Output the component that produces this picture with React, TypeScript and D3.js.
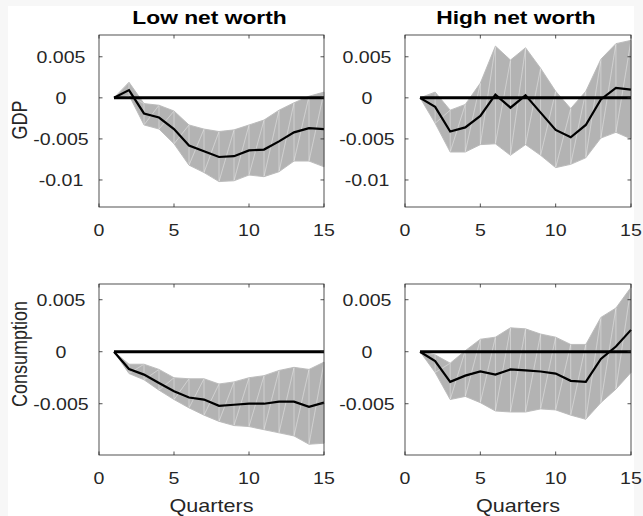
import React from "react";
import * as d3 from "d3";

// Horizon (quarters) shared by every panel
const quarters = [1, 2, 3, 4, 5, 6, 7, 8, 9, 10, 11, 12, 13, 14, 15];

const colTitles = ["Low net worth", "High net worth"];
const rowLabels = ["GDP", "Consumption"];

const xTicks = [0, 5, 10, 15];
const gdpTicks = [0.005, 0, -0.005, -0.01];
const consTicks = [0.005, 0, -0.005];
const gdpTickLabels = ["0.005", "0", "-0.005", "-0.01"];
const consTickLabels = ["0.005", "0", "-0.005"];

// GDP, low net worth
const gdpLowIrf = [0, 0.00094, -0.0019, -0.0024, -0.0038, -0.0058, -0.0065, -0.0072, -0.0071, -0.0064, -0.0063, -0.0053, -0.0042, -0.0037, -0.0038];
const gdpLowUpper = [0, 0.0019, -0.0007, -0.0009, -0.0016, -0.0033, -0.0038, -0.0041, -0.0039, -0.0033, -0.0027, -0.0015, -0.0006, 0.0002, 0.0007];
const gdpLowLower = [0, 0.0003, -0.0033, -0.0038, -0.0056, -0.0082, -0.0091, -0.0102, -0.0101, -0.0094, -0.0096, -0.009, -0.0077, -0.0077, -0.0084];

// GDP, high net worth
const gdpHighIrf = [0, -0.0011, -0.0041, -0.0036, -0.0022, 0.0004, -0.0012, 0.0003, -0.0018, -0.0039, -0.0048, -0.0033, -0.0002, 0.0012, 0.001];
const gdpHighUpper = [0, 0.0007, -0.0015, -0.0008, 0.0018, 0.0063, 0.0046, 0.0061, 0.0036, 0.0008, -0.0013, 0.0008, 0.0047, 0.0066, 0.007];
const gdpHighLower = [0, -0.0031, -0.0066, -0.0066, -0.0057, -0.0056, -0.007, -0.0057, -0.007, -0.0085, -0.0081, -0.0073, -0.0049, -0.0042, -0.005];

// Consumption, low net worth
const consLowIrf = [0, -0.00166, -0.0022, -0.003, -0.0038, -0.0044, -0.0046, -0.0052, -0.0051, -0.005, -0.005, -0.0048, -0.0048, -0.0053, -0.0049];
const consLowUpper = [0, -0.0012, -0.0012, -0.0017, -0.0025, -0.0026, -0.0026, -0.0031, -0.0029, -0.0025, -0.0023, -0.0018, -0.0015, -0.0017, -0.001];
const consLowLower = [0, -0.0021, -0.0027, -0.0037, -0.0046, -0.0054, -0.0061, -0.0067, -0.0071, -0.0072, -0.0075, -0.0078, -0.0081, -0.0089, -0.0088];

// Consumption, high net worth
const consHighIrf = [0, -0.0009, -0.0029, -0.0023, -0.0019, -0.0022, -0.0017, -0.0018, -0.0019, -0.0021, -0.0028, -0.0029, -0.0007, 0.0005, 0.0021];
const consHighUpper = [0, -0.0003, -0.0011, 0.0001, 0.0012, 0.0014, 0.0023, 0.0022, 0.0017, 0.0014, 0.0007, 0.0007, 0.0033, 0.0042, 0.0062];
const consHighLower = [0, -0.002, -0.0046, -0.0043, -0.0049, -0.0057, -0.0058, -0.0058, -0.0055, -0.0056, -0.0061, -0.0065, -0.0049, -0.0036, -0.002];

const W = 643;
const H = 516;
const FONT = "'Liberation Sans', Arial, Helvetica, sans-serif";
const SX = 1.2; // horizontal text stretch
const AXIS = "#262626";
const BAND = "#b3b3b3";

type PanelSpec = {
  left: number;
  right: number;
  top: number;
  bottom: number;
  yDomain: [number, number];
  ticks: number[];
  tickLabels: string[];
  irf: number[];
  upper: number[];
  lower: number[];
  labelX: number;
};

const colBounds = [
  { left: 99, right: 324 },
  { left: 405, right: 631 },
];
const rowBounds = [
  { top: 35, bottom: 207, yDomain: [-0.01329, 0.00765] as [number, number] },
  { top: 284, bottom: 455, yDomain: [-0.00993, 0.00651] as [number, number] },
];

function Panel({ p, xLabel }: { p: PanelSpec; xLabel: boolean }) {
  const x = d3.scaleLinear().domain([0, 15]).range([p.left, p.right]);
  const y = d3.scaleLinear().domain(p.yDomain).range([p.bottom, p.top]);
  const pts = quarters.map((q, i) => ({ q, u: p.upper[i], l: p.lower[i], m: p.irf[i] }));

  // band split into triangles, leaving faint seams between patches
  const tris: [number, number][][] = [];
  for (let i = 0; i < pts.length - 1; i++) {
    const a = pts[i];
    const b = pts[i + 1];
    tris.push([
      [x(a.q), y(a.u)],
      [x(a.q), y(a.l)],
      [x(b.q), y(b.u)],
    ]);
    tris.push([
      [x(a.q), y(a.l)],
      [x(b.q), y(b.l)],
      [x(b.q), y(b.u)],
    ]);
  }
  const poly = d3.line<[number, number]>();
  const area = d3
    .area<(typeof pts)[number]>()
    .x((d) => x(d.q))
    .y0((d) => y(d.l))
    .y1((d) => y(d.u));
  const line = d3
    .line<(typeof pts)[number]>()
    .x((d) => x(d.q))
    .y((d) => y(d.m));

  const tl = 3.5;
  return (
    <g>
      <path d={area(pts) || ""} fill={BAND} stroke="none" />
      {tris.map((t, i) => (
        <path
          key={i}
          d={poly([...t, t[0]]) || ""}
          fill="none"
          stroke="#ffffff"
          strokeOpacity={0.35}
          strokeWidth={0.6}
        />
      ))}
      <path d={area(pts) || ""} fill="none" stroke={BAND} strokeWidth={0.8} />
      <line x1={x(1)} x2={x(15)} y1={y(0)} y2={y(0)} stroke="#000" strokeWidth={3} />
      <path d={line(pts) || ""} fill="none" stroke="#000" strokeWidth={2.2} strokeLinejoin="miter" />
      {/* box */}
      <rect
        x={p.left}
        y={p.top}
        width={p.right - p.left}
        height={p.bottom - p.top}
        fill="none"
        stroke={AXIS}
        strokeWidth={0.8}
      />
      {xTicks.map((t) => (
        <g key={"x" + t}>
          <line x1={x(t)} x2={x(t)} y1={p.bottom} y2={p.bottom - tl} stroke={AXIS} strokeWidth={0.8} />
          <line x1={x(t)} x2={x(t)} y1={p.top} y2={p.top + tl} stroke={AXIS} strokeWidth={0.8} />
          <text
            transform={`translate(${x(t)},${p.bottom + 29}) scale(${SX},1)`}
            textAnchor="middle"
            fontFamily={FONT}
            fontSize={16.3}
            fill={AXIS}
          >
            {t}
          </text>
        </g>
      ))}
      {p.ticks.map((t, i) => (
        <g key={"y" + t}>
          <line x1={p.left} x2={p.left + tl} y1={y(t)} y2={y(t)} stroke={AXIS} strokeWidth={0.8} />
          <line x1={p.right} x2={p.right - tl} y1={y(t)} y2={y(t)} stroke={AXIS} strokeWidth={0.8} />
          <text
            transform={`translate(${p.labelX},${y(t) + 5.8}) scale(${SX},1)`}
            textAnchor="middle"
            fontFamily={FONT}
            fontSize={16.3}
            fill={AXIS}
          >
            {p.tickLabels[i]}
          </text>
        </g>
      ))}
      {xLabel && (
        <text
          transform={`translate(${(p.left + p.right) / 2},${p.bottom + 57}) scale(${SX},1)`}
          textAnchor="middle"
          fontFamily={FONT}
          fontSize={18}
          fill={AXIS}
        >
          Quarters
        </text>
      )}
    </g>
  );
}

export default function App() {
  const irfs = [
    [gdpLowIrf, gdpHighIrf],
    [consLowIrf, consHighIrf],
  ];
  const uppers = [
    [gdpLowUpper, gdpHighUpper],
    [consLowUpper, consHighUpper],
  ];
  const lowers = [
    [gdpLowLower, gdpHighLower],
    [consLowLower, consHighLower],
  ];
  const panels: { spec: PanelSpec; r: number; c: number }[] = [];
  rowBounds.forEach((rb, r) => {
    colBounds.forEach((cb, c) => {
      panels.push({
        r,
        c,
        spec: {
          ...cb,
          top: rb.top,
          bottom: rb.bottom,
          yDomain: rb.yDomain,
          ticks: r === 0 ? gdpTicks : consTicks,
          tickLabels: r === 0 ? gdpTickLabels : consTickLabels,
          irf: irfs[r][c],
          upper: uppers[r][c],
          lower: lowers[r][c],
          labelX: cb.left - 38,
        },
      });
    });
  });

  const rowLabelY = [120, 354];

  return (
    <svg
      width={W}
      height={H}
      viewBox={`0 0 ${W} ${H}`}
      style={{ position: "absolute", left: 0, top: 0, display: "block" }}
    >
      <rect x={0} y={0} width={W} height={H} fill="#f7f7f7" />
      <rect x={8} y={6} width={626} height={H - 6} fill="#ffffff" />
      {panels.map(({ spec, r, c }) => (
        <Panel key={`${r}-${c}`} p={spec} xLabel={r === 1} />
      ))}
      {colTitles.map((t, c) => (
        <text
          key={t}
          transform={`translate(${(colBounds[c].left + colBounds[c].right) / 2 - 2},24) scale(${SX},1)`}
          textAnchor="middle"
          fontFamily={FONT}
          fontSize={19}
          fontWeight="bold"
          fill="#000"
        >
          {t}
        </text>
      ))}
      {rowLabels.map((t, r) => (
        <text
          key={t}
          transform={`translate(27,${rowLabelY[r]}) scale(${SX},1) rotate(-90)`}
          textAnchor="middle"
          fontFamily={FONT}
          fontSize={18}
          fill={AXIS}
        >
          {t}
        </text>
      ))}
    </svg>
  );
}
